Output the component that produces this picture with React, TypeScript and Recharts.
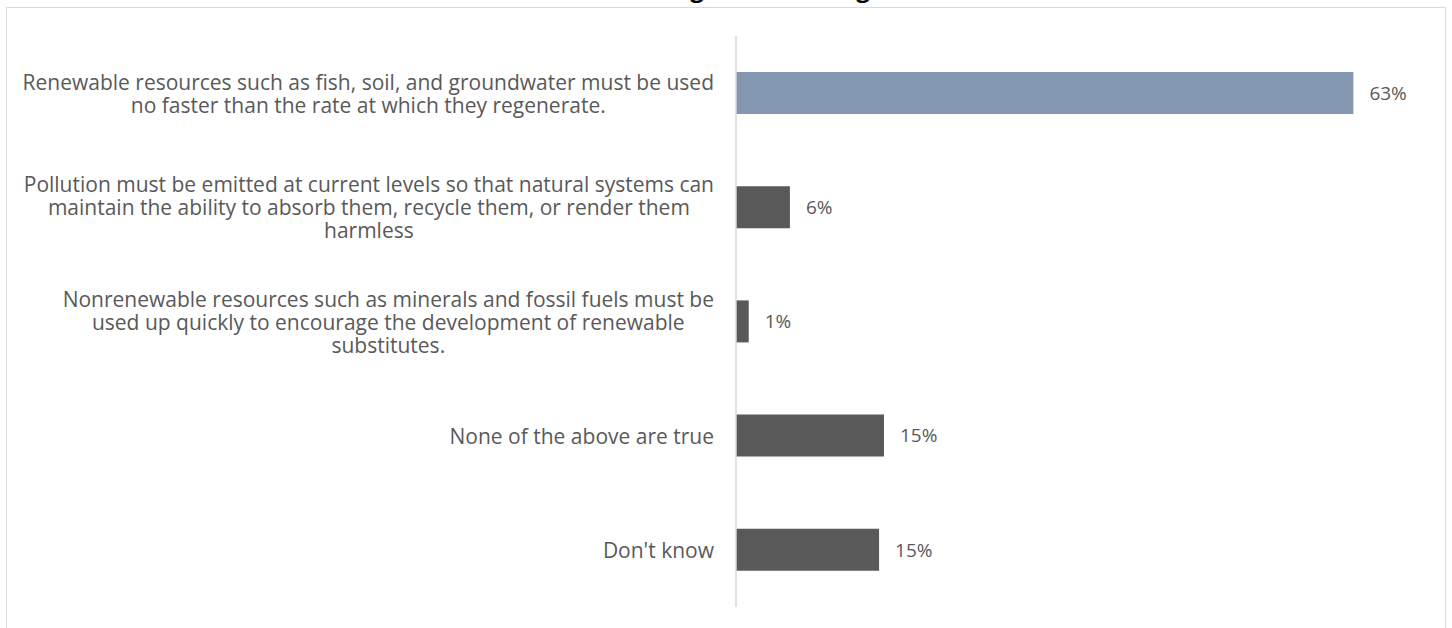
import React from "react";
import { BarChart, Bar, XAxis, YAxis, Cell, LabelList } from "recharts";

const categories: string[] = [
  "Renewable resources such as fish, soil, and groundwater must be used\nno faster than the rate at which they regenerate.",
  "Pollution must be emitted at current levels so that natural systems can\nmaintain the ability to absorb them, recycle them, or render them\nharmless",
  "Nonrenewable resources such as minerals and fossil fuels must be\nused up quickly to encourage the development of renewable\nsubstitutes.",
  "None of the above are true",
  "Don't know",
];
const values: number[] = [63, 5.5, 1.3, 15.1, 14.6];
const barColors: string[] = ["#8497B0", "#595959", "#595959", "#595959", "#595959"];

const data = categories.map((name, i) => ({ name, value: values[i] }));

const FONT = "'Open Sans', sans-serif";
const FONT_SIZE = 21;
const LABEL_SIZE = 19;
const TEXT_COLOR = "#595959";
const LINE_H = 23;

let ctx: CanvasRenderingContext2D | null = null;
function measure(s: string): number {
  if (!ctx) {
    const c = document.createElement("canvas");
    ctx = c.getContext("2d");
  }
  if (!ctx) return s.length * 10;
  ctx.font = `${FONT_SIZE}px 'Open Sans'`;
  return ctx.measureText(s).width;
}

const CategoryTick = (props: any) => {
  const { x, y, payload } = props;
  const lines: string[] = String(payload.value).split("\n");
  const w = Math.max(...lines.map(measure));
  const cx = x - w / 2;
  const startY = y - ((lines.length - 1) * LINE_H) / 2;
  return (
    <text
      x={cx}
      y={startY}
      textAnchor="middle"
      fill={TEXT_COLOR}
      fontFamily={FONT}
      fontSize={FONT_SIZE}
    >
      {lines.map((l, i) => (
        <tspan key={i} x={cx} y={startY + i * LINE_H} dominantBaseline="central">
          {l}
        </tspan>
      ))}
    </text>
  );
};

export default function App() {
  return (
    <div style={{ position: "absolute", left: 0, top: 0, width: 1452, height: 628, background: "#fff", overflow: "hidden" }}>
      <div
        style={{
          position: "absolute",
          left: 6,
          top: 7,
          width: 1440,
          height: 621,
          borderTop: "1px solid #d9d9d9",
          borderLeft: "1.5px solid #d9d9d9",
          borderRight: "1.5px solid #d9d9d9",
          boxSizing: "border-box",
        }}
      />
      <svg width={1452} height={12} style={{ position: "absolute", left: 0, top: 0 }}>
        <text x={697} y={-3} textAnchor="middle" fontFamily="'Open Sans', sans-serif" fontWeight={700} fontSize={24} fill="#000">g</text>
        <text x={863} y={-3} textAnchor="middle" fontFamily="'Open Sans', sans-serif" fontWeight={700} fontSize={24} fill="#000">g</text>
      </svg>
      <div style={{ position: "absolute", left: 0, top: 0 }}>
        <BarChart
          width={1452}
          height={628}
          data={data}
          layout="vertical"
          margin={{ top: 36, right: 30, bottom: 21, left: 0 }}
          barSize={42}
        >
          <XAxis type="number" domain={[0, 70]} hide />
          <YAxis
            type="category"
            dataKey="name"
            width={736}
            axisLine={{ stroke: "#d9d9d9", strokeWidth: 1.5 }}
            tickLine={false}
            tickSize={0}
            tickMargin={22}
            tick={<CategoryTick />}
            interval={0}
          />
          <Bar dataKey="value" isAnimationActive={false}>
            {data.map((d, i) => (
              <Cell key={i} fill={barColors[i]} />
            ))}
            <LabelList
              dataKey="value"
              position="right"
              offset={16}
              formatter={(v: any) => `${Math.round(Number(v))}%`}
              fill={TEXT_COLOR}
              fontFamily={FONT}
              fontSize={LABEL_SIZE}
            />
          </Bar>
        </BarChart>
      </div>
    </div>
  );
}
